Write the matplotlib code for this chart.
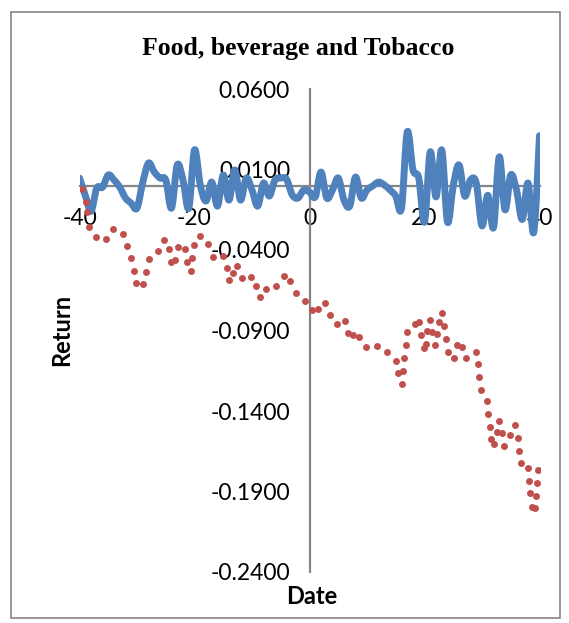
import matplotlib
matplotlib.use("Agg")
import matplotlib.pyplot as plt
import numpy as np
from matplotlib.path import Path
from matplotlib.patches import PathPatch, Rectangle

# daily abnormal return (blue) by event date
dates = list(range(-40, 41))
ar = [0.0047, -0.0060, -0.0160, -0.0015, -0.0010, 0.0066, 0.0035, -0.0010, -0.0077, -0.0110,
      -0.0140, 0.0020, 0.0140, 0.0085, 0.0047, 0.0035, -0.0140, 0.0128, 0.0035, -0.0140,
      0.0221, 0.0004, -0.0096, 0.0022, -0.0127, 0.0066, -0.0090, 0.0097, -0.0090, 0.0047,
      -0.0027, -0.0127, 0.0016, -0.0065, 0.0035, 0.0047, 0.0040, -0.0058, -0.0077, -0.0027,
      -0.0040, -0.0070, 0.0084, -0.0077, -0.0027, 0.0047, -0.0090, -0.0127, 0.0053, -0.0077,
      -0.0027, -0.0002, 0.0022, 0.0004, -0.0027, -0.0065, -0.0140, 0.0333, 0.0097, 0.0047,
      -0.0226, 0.0209, -0.0070, 0.0221, -0.0226, 0.0000, 0.0128, -0.0065, 0.0035, 0.0016,
      -0.0250, -0.0060, -0.0260, 0.0178, -0.0150, 0.0066, -0.0027, -0.0210, 0.0016, -0.0290,
      0.0310]

# cumulative abnormal return (red dots)
car_date = [-39.51, -38.92, -38.61, -38.35, -37.18, -35.44, -34.23, -32.49, -31.79, -31.10,
            -30.52, -30.17, -29.01, -28.43, -27.86, -26.40, -25.25, -24.38, -24.09, -23.39,
            -22.92, -21.65, -21.30, -20.66, -20.38, -20.09, -19.04, -17.60, -16.83, -15.04,
            -14.40, -13.36, -12.56, -14.00, -11.72, -10.26, -9.39, -8.57, -7.48, -5.79,
            -4.43, -3.34, -2.40, -0.75, 0.49, 1.48, 2.70, 3.57, 4.83, 6.21,
            6.70, 7.62, 8.61, 9.83, 11.79, 13.53, 14.99, 15.43, 16.31, 16.03,
            16.49, 16.70, 16.92, 18.35, 19.13, 19.43, 19.83, 20.26, 20.49, 21.01,
            21.36, 21.83, 22.23, 22.57, 23.10, 23.39, 23.69, 24.03, 25.13, 25.60,
            26.47, 27.22, 28.90, 29.25, 29.53, 29.83, 30.82, 31.10, 31.39, 32.96,
            32.56, 33.43, 31.57, 32.14, 33.88, 34.87, 35.79, 36.31, 36.49, 36.78,
            38.05, 39.69, 38.23, 39.57, 38.35, 39.34, 38.64, 39.22]
car = [-0.0021, -0.0099, -0.0164, -0.0255, -0.0321, -0.0334, -0.0270, -0.0301, -0.0375, -0.0452,
       -0.0529, -0.0607, -0.0613, -0.0535, -0.0458, -0.0404, -0.0340, -0.0394, -0.0473, -0.0462,
       -0.0383, -0.0396, -0.0475, -0.0529, -0.0450, -0.0371, -0.0311, -0.0365, -0.0442, -0.0437,
       -0.0509, -0.0545, -0.0501, -0.0586, -0.0576, -0.0566, -0.0622, -0.0690, -0.0642, -0.0625,
       -0.0560, -0.0593, -0.0666, -0.0714, -0.0770, -0.0768, -0.0727, -0.0801, -0.0860, -0.0839,
       -0.0914, -0.0925, -0.0943, -0.1004, -0.0994, -0.1032, -0.1088, -0.1167, -0.1150, -0.1230,
       -0.1073, -0.0992, -0.0912, -0.0857, -0.0849, -0.0928, -0.1006, -0.0981, -0.0903, -0.0832,
       -0.0911, -0.0990, -0.0924, -0.0845, -0.0793, -0.0872, -0.0953, -0.1032, -0.1069, -0.0990,
       -0.1004, -0.1069, -0.1032, -0.1110, -0.1191, -0.1270, -0.1340, -0.1419, -0.1498, -0.1460,
       -0.1529, -0.1539, -0.1576, -0.1607, -0.1616, -0.1551, -0.1489, -0.1568, -0.1647, -0.1725,
       -0.1756, -0.1767, -0.1833, -0.1845, -0.1911, -0.1926, -0.1994, -0.2004]

y_ticks = [0.06, 0.01, -0.04, -0.09, -0.14, -0.19, -0.24]
x_ticks = [-40, -20, 0, 20, 40]

BLUE = "#4F81BD"
RED = "#C0504D"
AXIS = "#868686"


def smooth_path(x, y):
    """Excel-like smoothed line: Catmull-Rom segments as cubic Beziers."""
    pts = np.column_stack([x, y]).astype(float)
    verts = [pts[0]]
    codes = [Path.MOVETO]
    n = len(pts)
    for i in range(n - 1):
        p0 = pts[max(i - 1, 0)]
        p1 = pts[i]
        p2 = pts[i + 1]
        p3 = pts[min(i + 2, n - 1)]
        verts += [p1 + (p2 - p0) / 6, p2 - (p3 - p1) / 6, p2]
        codes += [Path.CURVE4] * 3
    return Path(verts, codes)


fig = plt.figure(figsize=(5.69, 6.23), dpi=100)
fig.patches.append(Rectangle((11 / 569, 1 - 618 / 623), 549 / 569, 606 / 623,
                             transform=fig.transFigure, fill=False,
                             edgecolor=AXIS, linewidth=1.2))

ax = fig.add_axes([79.5 / 569, 1 - 572 / 623, 460 / 569, 483 / 623])
ax.set_xlim(-40, 40)
ax.set_ylim(-0.24, 0.06)

ax.add_patch(PathPatch(smooth_path(dates, ar), facecolor="none", edgecolor=BLUE,
                       linewidth=5.0, capstyle="round", joinstyle="round", zorder=3))
ax.plot(car_date, car, linestyle="none", marker="o", markersize=5.0,
        color=RED, markeredgewidth=0, zorder=4)

for side in ("top", "right"):
    ax.spines[side].set_visible(False)
ax.spines["left"].set_position(("data", 0))
ax.spines["bottom"].set_position(("data", 0))
for side in ("left", "bottom"):
    ax.spines[side].set_color(AXIS)
    ax.spines[side].set_linewidth(1.6)
    ax.spines[side].set_zorder(2)

ax.set_yticks(y_ticks, [f"{v:.4f}" for v in y_ticks])
ax.set_xticks(x_ticks, [str(v) for v in x_ticks])
ax.tick_params(axis="y", length=0, pad=14, labelsize=16.5)
ax.tick_params(axis="x", length=0, pad=16, labelsize=16.5)
for lab in ax.get_xticklabels() + ax.get_yticklabels():
    lab.set_fontfamily("Lato")
ax.patch.set_visible(False)

fig.text(298 / 569, 1 - 48 / 623, "Food, beverage and Tobacco", ha="center", va="center",
         fontsize=18.5, fontweight="bold", family="Liberation Serif")
fig.text(62 / 569, 1 - 330 / 623, "Return", rotation=90, ha="center", va="center",
         fontsize=17, fontweight="bold", family="Lato")
fig.text(312 / 569, 1 - 596 / 623, "Date", ha="center", va="center",
         fontsize=17, fontweight="bold", family="Lato")

fig.savefig("out.png", dpi=100)
